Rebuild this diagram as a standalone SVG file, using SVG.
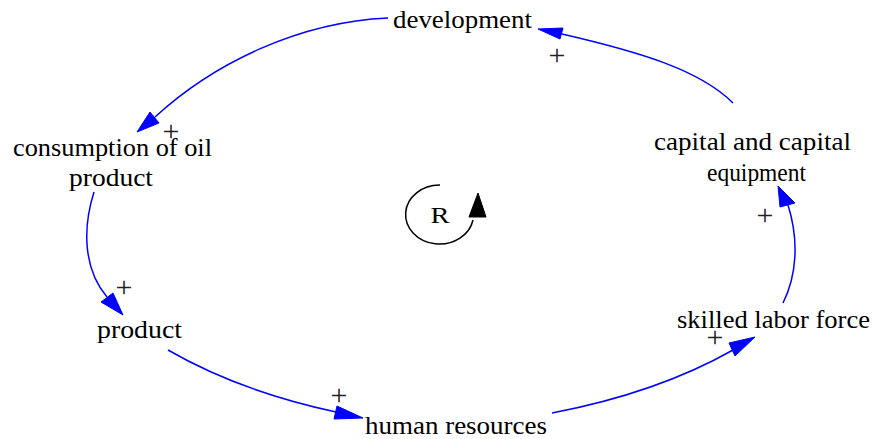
<svg xmlns="http://www.w3.org/2000/svg" width="872" height="439" viewBox="0 0 872 439">
<style>
.e{fill:none;stroke:#0000ff;stroke-width:1.5;}
.h{fill:#0000ff;stroke:#0000ff;stroke-width:1;}
</style>
<rect width="872" height="439" fill="#fff"/>
<g id="connectors">
<path class="e" d="M388,18 C300,22 215,62 155,117"/>
<polygon class="h" points="137,132 150,112 159,123"/>
<path class="e" d="M94,192 C82,230 84,270 107,297"/>
<polygon class="h" points="123,315 101,302 113,293"/>
<path class="e" d="M168,350 C220,380 280,400 336,412"/>
<polygon class="h" points="363,418 334,419 337,406"/>
<path class="e" d="M552,413 C620,400 680,380 733,350"/>
<polygon class="h" points="755,337 729,343 735,356"/>
<path class="e" d="M783,303 C797,275 799,240 788,205"/>
<polygon class="h" points="778,186 780,207 795,203"/>
<path class="e" d="M733,103 C700,70 640,52 562,34"/>
<polygon class="h" points="538,29 560,39 563,28"/>
</g>
<g font-family="'Liberation Serif', Tinos, 'Times New Roman', Times, 'DejaVu Serif', serif" fill="#000" font-size="25" text-anchor="middle">
<g id="loop">
<path d="M440,185 A34,29.5 0 1 0 473,220" fill="none" stroke="#000" stroke-width="1.5"/>
<polygon points="469,217 486,217 478,193" fill="#000" stroke="#000"/>
<text x="440" y="223" font-size="24" textLength="19" lengthAdjust="spacingAndGlyphs">R</text>
</g>
<g id="development"><text x="462.5" y="28" textLength="139" lengthAdjust="spacingAndGlyphs">development</text></g>
<g id="consumption"><text x="112.5" y="156" textLength="199" lengthAdjust="spacingAndGlyphs">consumption of oil</text><text x="111" y="186" textLength="84" lengthAdjust="spacingAndGlyphs">product</text></g>
<g id="capital"><text x="752.5" y="150" textLength="197" lengthAdjust="spacingAndGlyphs">capital and capital</text><text x="756.5" y="181" textLength="99" lengthAdjust="spacingAndGlyphs">equipment</text></g>
<g id="product"><text x="139.5" y="338" textLength="85" lengthAdjust="spacingAndGlyphs">product</text></g>
<g id="skilled"><text x="773.5" y="328" textLength="193" lengthAdjust="spacingAndGlyphs">skilled labor force</text></g>
<g id="human"><text x="456" y="434" textLength="182" lengthAdjust="spacingAndGlyphs">human resources</text></g>
<g id="signs" font-size="30" fill="#222">
<text x="557" y="65">+</text>
<text x="171" y="141">+</text>
<text x="124" y="297">+</text>
<text x="339" y="405">+</text>
<text x="715" y="347">+</text>
<text x="765" y="225">+</text>
</g>
</g>
</svg>
